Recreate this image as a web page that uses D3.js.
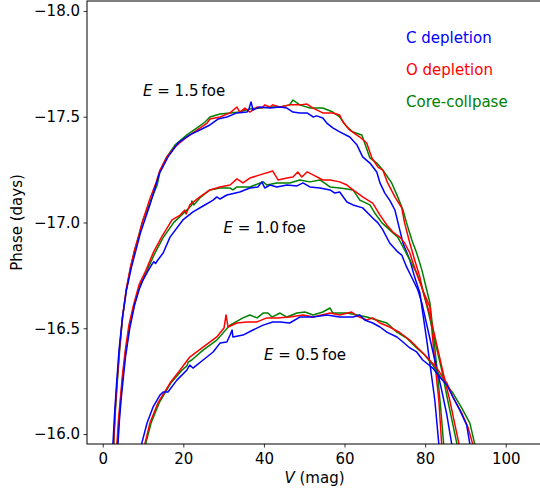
<!DOCTYPE html>
<html>
<head>
<meta charset="utf-8">
<script src="https://cdn.jsdelivr.net/npm/d3@7"></script>
<style>
  body { margin: 0; background: #fff; }
  svg { display: block; }
  text { font-family: "DejaVu Sans", sans-serif; }
</style>
</head>
<body>
<div id="chart"></div>
<script>
// Models / colours / annotation data
const models = ["C depletion", "O depletion", "Core-collpase"];
const colors = ["#0000ff", "#ff0000", "#008000"];
const energies = ["1.5", "1.0", "0.5"];
const energyLabelPos = [[10, -17.6], [30, -16.95], [40, -16.35]];
const xTicks = [0, 20, 40, 60, 80, 100];
const yTicks = [-18.0, -17.5, -17.0, -16.5, -16.0];

// [V, phase] points
const cDep15 = [[2.3,-15.924],[2.55,-15.957],[3.0,-16.113],[3.45,-16.241],[4.05,-16.397],[4.9,-16.553],[5.9,-16.681],[7.15,-16.790],[8.25,-16.870],[9.35,-16.950],[11.7,-17.083],[14.1,-17.234],[14.5,-17.248],[16.2,-17.310],[18.7,-17.376],[21.6,-17.414],[24.1,-17.437],[26.6,-17.461],[28.6,-17.489],[30.8,-17.499],[33.3,-17.518],[35.8,-17.522],[36.3,-17.537],[36.8,-17.570],[37.3,-17.532],[39.0,-17.546],[41.5,-17.541],[44.0,-17.546],[45.7,-17.541],[47.2,-17.522],[48.9,-17.518],[50.7,-17.518],[52.2,-17.499],[53.1,-17.504],[54.6,-17.494],[55.6,-17.470],[57.1,-17.447],[58.8,-17.428],[61.3,-17.404],[63.1,-17.366],[64.5,-17.310],[66.3,-17.281],[68.0,-17.239],[68.8,-17.187],[70.0,-17.139],[71.2,-17.106],[72.5,-17.059],[73.7,-16.965],[74.5,-16.903],[76.2,-16.823],[77.4,-16.742],[78.7,-16.667],[79.2,-16.600],[80.4,-16.444],[81.4,-16.303],[82.4,-16.161],[83.4,-15.953],[83.6,-15.915]];
const oDep15 = [[2.6,-15.924],[2.7,-15.957],[3.1,-16.113],[3.55,-16.241],[4.15,-16.397],[4.9,-16.553],[5.8,-16.681],[6.9,-16.790],[7.9,-16.870],[9.0,-16.941],[9.75,-16.998],[11.6,-17.106],[13.2,-17.187],[14.2,-17.248],[15.9,-17.310],[17.9,-17.357],[20.9,-17.404],[23.4,-17.437],[25.9,-17.470],[26.6,-17.489],[29.1,-17.499],[31.6,-17.518],[33.3,-17.546],[34.0,-17.522],[35.3,-17.541],[36.5,-17.522],[38.3,-17.546],[39.5,-17.541],[40.2,-17.556],[41.5,-17.546],[42.2,-17.556],[44.0,-17.546],[46.4,-17.556],[48.9,-17.556],[50.7,-17.560],[52.2,-17.541],[54.6,-17.518],[57.1,-17.518],[58.8,-17.508],[59.6,-17.475],[61.3,-17.437],[63.8,-17.404],[65.5,-17.376],[66.8,-17.305],[68.3,-17.262],[69.5,-17.248],[70.7,-17.187],[72.5,-17.121],[74.2,-17.069],[74.9,-16.998],[76.2,-16.903],[77.4,-16.823],[78.7,-16.742],[79.4,-16.681],[81.2,-16.600],[81.9,-16.444],[82.6,-16.303],[83.4,-16.161],[84.1,-15.953],[84.4,-15.915]];
const core15 = [[2.6,-15.924],[2.75,-15.957],[3.15,-16.113],[3.6,-16.241],[4.2,-16.397],[4.95,-16.553],[5.85,-16.681],[6.95,-16.790],[7.95,-16.870],[9.1,-16.950],[10.0,-17.012],[11.7,-17.092],[13.5,-17.177],[14.2,-17.239],[15.9,-17.310],[17.9,-17.366],[20.9,-17.414],[23.4,-17.447],[25.4,-17.475],[26.6,-17.499],[29.1,-17.513],[31.6,-17.518],[34.0,-17.522],[36.5,-17.537],[39.0,-17.541],[41.5,-17.546],[44.0,-17.546],[46.4,-17.556],[47.2,-17.579],[48.9,-17.556],[51.4,-17.541],[54.6,-17.541],[57.1,-17.522],[58.8,-17.499],[60.6,-17.452],[62.1,-17.428],[64.3,-17.414],[65.0,-17.376],[66.3,-17.305],[68.0,-17.281],[69.5,-17.248],[71.7,-17.187],[73.2,-17.121],[74.5,-17.059],[75.4,-16.998],[76.7,-16.917],[77.9,-16.856],[79.2,-16.775],[80.4,-16.681],[81.2,-16.619],[82.2,-16.444],[83.1,-16.279],[83.9,-16.113],[84.6,-15.953],[84.9,-15.915]];

const cDep10 = [[3.5,-15.924],[3.8,-15.957],[4.15,-16.066],[4.55,-16.161],[5.05,-16.255],[5.65,-16.364],[6.65,-16.492],[7.9,-16.610],[9.0,-16.681],[10.0,-16.728],[11.1,-16.766],[12.1,-16.799],[12.7,-16.815],[13.1,-16.806],[13.5,-16.818],[15.0,-16.856],[16.7,-16.931],[19.9,-17.012],[22.4,-17.050],[24.9,-17.078],[27.4,-17.106],[28.3,-17.121],[29.1,-17.111],[30.8,-17.130],[34.0,-17.144],[36.5,-17.163],[38.5,-17.168],[39.5,-17.192],[40.2,-17.163],[41.5,-17.177],[43.2,-17.168],[45.7,-17.177],[48.2,-17.173],[49.7,-17.187],[51.4,-17.168],[53.9,-17.163],[56.4,-17.154],[57.6,-17.139],[58.8,-17.144],[60.6,-17.097],[62.1,-17.083],[64.5,-17.069],[67.0,-17.021],[68.3,-16.998],[69.5,-16.965],[71.2,-16.903],[73.2,-16.861],[74.2,-16.846],[75.4,-16.790],[77.0,-16.728],[78.2,-16.681],[79.2,-16.619],[80.7,-16.492],[82.4,-16.350],[84.1,-16.208],[85.4,-16.090],[86.6,-15.953],[86.9,-15.915]];
const oDep10 = [[3.3,-15.924],[3.55,-15.957],[3.9,-16.066],[4.35,-16.161],[4.9,-16.279],[5.6,-16.397],[6.5,-16.515],[7.65,-16.610],[9.0,-16.705],[10.75,-16.775],[12.5,-16.856],[14.6,-16.931],[17.2,-17.012],[19.2,-17.035],[20.4,-17.059],[20.7,-17.040],[21.6,-17.083],[24.1,-17.121],[26.6,-17.154],[29.1,-17.168],[31.6,-17.177],[33.3,-17.206],[34.8,-17.187],[36.5,-17.210],[39.0,-17.225],[42.2,-17.243],[43.5,-17.201],[45.7,-17.210],[47.2,-17.215],[48.4,-17.239],[49.4,-17.215],[50.7,-17.239],[52.2,-17.225],[54.6,-17.201],[56.4,-17.201],[58.8,-17.192],[60.6,-17.177],[62.1,-17.154],[64.5,-17.121],[67.0,-17.092],[68.8,-17.035],[70.5,-16.988],[72.0,-16.955],[73.7,-16.931],[74.9,-16.903],[76.2,-16.856],[77.0,-16.809],[78.2,-16.742],[79.4,-16.681],[81.2,-16.563],[82.9,-16.421],[84.6,-16.279],[86.1,-16.161],[87.4,-16.043],[88.4,-15.953],[88.6,-15.915]];
const core10 = [[3.4,-15.924],[3.65,-15.957],[4.05,-16.066],[4.45,-16.161],[5.0,-16.279],[5.75,-16.397],[6.7,-16.515],[7.85,-16.610],[9.1,-16.695],[10.85,-16.766],[12.7,-16.846],[14.95,-16.927],[17.7,-17.002],[20.4,-17.050],[22.1,-17.083],[22.1,-17.102],[22.6,-17.083],[24.1,-17.116],[26.6,-17.154],[29.1,-17.163],[31.6,-17.163],[32.3,-17.154],[33.3,-17.168],[34.8,-17.168],[36.5,-17.168],[39.8,-17.192],[40.7,-17.177],[43.2,-17.187],[46.4,-17.187],[48.9,-17.201],[51.4,-17.192],[53.9,-17.201],[56.4,-17.168],[58.8,-17.163],[60.6,-17.158],[62.1,-17.154],[63.8,-17.106],[66.3,-17.083],[67.5,-17.045],[69.3,-16.998],[71.2,-16.965],[73.2,-16.931],[74.9,-16.870],[76.2,-16.823],[77.9,-16.761],[79.2,-16.695],[80.7,-16.586],[82.4,-16.444],[84.1,-16.303],[85.6,-16.161],[86.9,-16.043],[87.9,-15.953],[88.1,-15.915]];

const cDep05 = [[9.5,-15.924],[9.7,-15.957],[11.0,-16.052],[12.5,-16.128],[14.2,-16.184],[15.0,-16.199],[16.2,-16.199],[18.4,-16.255],[20.9,-16.303],[21.6,-16.326],[22.4,-16.312],[24.9,-16.350],[27.4,-16.388],[29.1,-16.430],[30.8,-16.435],[31.6,-16.468],[32.1,-16.492],[32.3,-16.459],[34.8,-16.468],[37.3,-16.492],[39.8,-16.515],[42.2,-16.530],[44.0,-16.530],[46.4,-16.525],[48.9,-16.553],[52.2,-16.553],[55.6,-16.563],[58.8,-16.553],[62.1,-16.553],[63.8,-16.563],[65.0,-16.539],[67.0,-16.525],[68.8,-16.506],[70.5,-16.482],[73.0,-16.459],[74.5,-16.435],[76.2,-16.407],[77.9,-16.388],[79.4,-16.350],[81.9,-16.312],[83.6,-16.270],[85.4,-16.232],[86.9,-16.175],[88.6,-16.113],[90.3,-16.043],[91.1,-15.953],[91.3,-15.915]];
const oDep05 = [[10.2,-15.924],[10.5,-15.957],[11.7,-16.052],[13.7,-16.147],[16.7,-16.241],[19.2,-16.303],[21.6,-16.364],[24.9,-16.411],[28.3,-16.459],[30.1,-16.501],[30.6,-16.563],[31.1,-16.506],[33.3,-16.525],[35.8,-16.530],[38.3,-16.530],[40.7,-16.549],[43.2,-16.549],[46.4,-16.553],[49.7,-16.563],[52.2,-16.553],[56.4,-16.572],[58.8,-16.563],[61.8,-16.577],[63.1,-16.558],[65.5,-16.539],[67.0,-16.549],[68.8,-16.525],[71.2,-16.506],[73.7,-16.480],[76.2,-16.444],[78.7,-16.397],[80.4,-16.364],[82.9,-16.312],[85.4,-16.241],[86.9,-16.175],[89.1,-16.099],[90.6,-16.033],[91.8,-15.953],[92.1,-15.915]];
const core05 = [[10.5,-15.924],[10.7,-15.957],[12.0,-16.052],[14.0,-16.147],[16.9,-16.241],[19.7,-16.303],[20.9,-16.322],[21.2,-16.340],[22.1,-16.350],[24.9,-16.397],[28.3,-16.444],[31.6,-16.515],[34.8,-16.549],[36.5,-16.563],[38.3,-16.549],[39.8,-16.572],[41.0,-16.572],[42.0,-16.553],[44.0,-16.572],[45.7,-16.553],[48.2,-16.572],[50.2,-16.577],[52.2,-16.563],[54.6,-16.577],[56.4,-16.596],[57.1,-16.572],[60.6,-16.572],[63.1,-16.563],[65.5,-16.553],[68.0,-16.539],[70.5,-16.525],[73.0,-16.482],[75.4,-16.454],[77.9,-16.407],[79.9,-16.374],[81.9,-16.326],[84.4,-16.255],[86.9,-16.194],[89.1,-16.123],[91.1,-16.052],[92.3,-15.953],[92.6,-15.915]];

// one row per energy, one column per model
const curves = [
  [cDep15, oDep15, core15],
  [cDep10, oDep10, core10],
  [cDep05, oDep05, core05]
];

// Dimensions
const W = 540, H = 495;
const margin = { top: 1, right: -2, bottom: 51, left: 87 };
const width = W - margin.left - margin.right;
const height = H - margin.top - margin.bottom;

const svg = d3.select("#chart").append("svg")
  .attr("width", W)
  .attr("height", H);

const g = svg.append("g")
  .attr("transform", `translate(${margin.left},${margin.top})`);

// Scales
const x = d3.scaleLinear().domain([-3.9, 109]).range([0, width]);
const y = d3.scaleLinear().domain([-18.047, -15.953]).range([0, height]);

g.append("clipPath").attr("id", "plot-clip")
  .append("rect").attr("width", width).attr("height", height);

// Lines: green, red, blue so that blue ends up on top
const line = d3.line().x(d => x(d[0])).y(d => y(d[1]));
const plot = g.append("g").attr("clip-path", "url(#plot-clip)");
curves.forEach(set => {
  [2, 1, 0].forEach(m => {
    plot.append("path")
      .datum(set[m])
      .attr("fill", "none")
      .attr("stroke", colors[m])
      .attr("stroke-width", 1.5)
      .attr("stroke-linejoin", "round")
      .attr("d", line);
  });
});

// Axes
const yAxis = g.append("g")
  .call(d3.axisLeft(y).tickValues(yTicks).tickFormat(d3.format(".1f"))
    .tickSize(3.5).tickPadding(3.5));
const xAxis = g.append("g")
  .attr("transform", `translate(0,${height})`)
  .call(d3.axisBottom(x).tickValues(xTicks).tickFormat(d3.format("d"))
    .tickSize(3.5).tickPadding(5.5));
[xAxis, yAxis].forEach(a => {
  a.select(".domain").remove();
  a.selectAll(".tick line").attr("stroke", "#000").attr("stroke-width", 0.8);
  a.selectAll(".tick text")
    .attr("fill", "#000")
    .attr("font-size", 15)
    .attr("font-family", "DejaVu Sans");
});

// Spines (right one falls outside the picture)
g.append("rect")
  .attr("width", width).attr("height", height)
  .attr("fill", "none").attr("stroke", "#000").attr("stroke-width", 1);

// Axis labels
const xl = svg.append("text")
  .attr("x", margin.left + width / 2)
  .attr("y", 483)
  .attr("text-anchor", "middle")
  .attr("font-size", 15);
xl.append("tspan").attr("font-style", "italic").text("V");
xl.append("tspan").text(" (mag)");

svg.append("text")
  .attr("transform", `translate(22,${margin.top + height / 2}) rotate(-90)`)
  .attr("text-anchor", "middle")
  .attr("font-size", 15)
  .text("Phase (days)");

// Energy annotations
energies.forEach((e, i) => {
  const t = g.append("text")
    .attr("x", x(energyLabelPos[i][0]))
    .attr("y", y(energyLabelPos[i][1]))
    .attr("font-size", 15);
  t.append("tspan").attr("font-style", "italic").text("E");
  t.append("tspan").text(` = ${e}\u2009foe`);
});

// Model labels
models.forEach((m, i) => {
  svg.append("text")
    .attr("x", 406)
    .attr("y", 43 + i * 32)
    .attr("font-size", 15)
    .attr("fill", colors[i])
    .text(m);
});
</script>
</body>
</html>
